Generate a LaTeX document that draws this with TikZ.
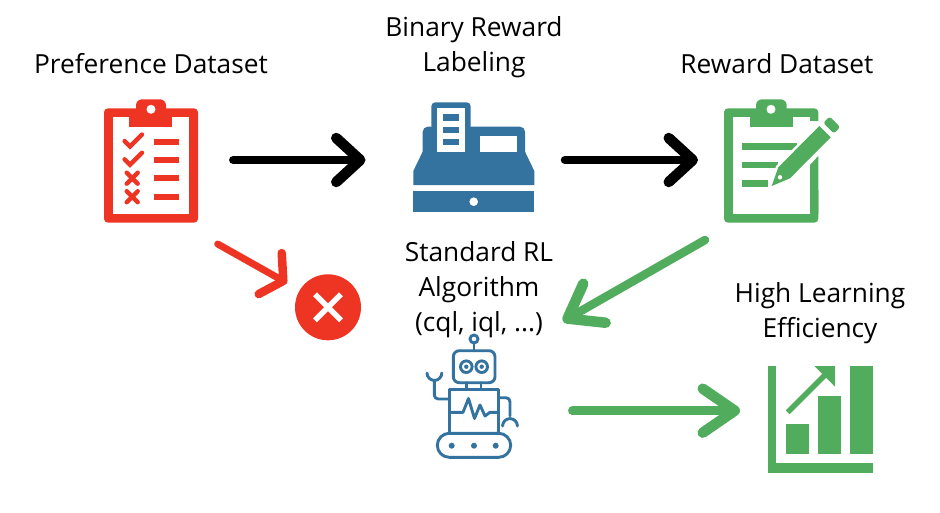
\documentclass[tikz,border=0pt]{standalone}
\usepackage{fontspec}
\setmainfont{Open Sans}
\usetikzlibrary{arrows.meta}
\definecolor{redc}{HTML}{EE3524}
\definecolor{bluec}{HTML}{34729F}
\definecolor{greenc}{HTML}{51AD5D}
\tikzset{
  lbl/.style={font=\fontsize{26.3}{35}\selectfont,align=center,text=black,inner sep=0pt},
  conn/.style={line width=8.5pt,line cap=round,line join=round},
  thin line/.style={line width=2.9pt,line cap=round,line join=round,draw=bluec},
}
\begin{document}
\begin{tikzpicture}[x=1pt,y=-1pt]
\useasboundingbox (0,0) rectangle (940,512);
\fill[white] (0,0) rectangle (940,512);
% ---------- labels
\node[lbl] (tPref) at (151,63.5) {Preference Dataset};
\node[lbl] (tBin) at (474,47) {Binary Reward\\Labeling};
\node[lbl] (tRew) at (777,63.5) {Reward Dataset};
\node[lbl] (tStd) at (479,289.5) {Standard RL\\Algorithm\\(cql, iql, ...)};
\node[lbl] (tHigh) at (820,313) {High Learning\\Efficiency};
% ---------- preference clipboard
\fill[redc,rounded corners=4pt] (104,108.3) rectangle (198,222.7);
\fill[white] (112.7,117.3) rectangle (189,214);
\fill[redc,rounded corners=6pt] (136,99.3) rectangle (166,122);
\fill[redc] (129,117.3) rectangle (172,126.7);
\fill[white] (151,109.3) circle (4.5);
\begin{scope}[line width=4.4pt,line cap=round]
  \draw[redc] (124.6,141) -- (130,146.5) -- (142,134.5);
  \draw[redc] (124.6,159.3) -- (130,164.8) -- (142,152.8);
  \draw[redc] (126.7,172.7) -- (137.7,183.7) (137.7,172.7) -- (126.7,183.7);
  \draw[redc] (126.7,191.2) -- (137.7,202.2) (137.7,191.2) -- (126.7,202.2);
\end{scope}
\fill[redc] (154,138.7) rectangle (179.3,144.7);
\fill[redc] (154,157.3) rectangle (179.3,163.3);
\fill[redc] (154,175.3) rectangle (179.3,181.3);
\fill[redc] (154,193.7) rectangle (179.3,199.7);
\coordinate (prefOut) at (233.3,160);
\coordinate (prefDown) at (217.7,244);
% ---------- cash register
\fill[bluec,rounded corners=4pt] (431.3,102.3) rectangle (470.7,130);
\fill[bluec,rounded corners=5pt] (422.7,126.7) rectangle (525,160);
\fill[bluec] (422.7,151.7) -- (525,151.7) -- (534.3,171) -- (534.3,185) -- (413.3,185) -- (413.3,171) -- cycle;
\fill[bluec] (413.3,191) rectangle (534.3,212.3);
\fill[white] (473.7,201.7) circle (4.3);
\fill[white] (437.3,108.3) rectangle (465,151.7);
\fill[bluec] (443.3,114.3) rectangle (459,120.7);
\fill[bluec] (443.3,126.7) rectangle (459,133);
\fill[bluec] (443.3,139) rectangle (459,145);
\fill[white] (480,136) rectangle (516.7,151.7);
\coordinate (regIn) at (365.5,160);
\coordinate (regOut) at (565,160);
% ---------- reward clipboard
\fill[greenc,rounded corners=4pt] (724,108.3) rectangle (818.3,222.7);
\fill[white] (732.7,117.3) rectangle (810,214);
\fill[greenc,rounded corners=6pt] (756,99.3) rectangle (786.7,122);
\fill[greenc] (750,117.3) rectangle (792.7,126.7);
\fill[white] (771,109.3) circle (4.5);
\fill[greenc] (742.3,143.3) rectangle (796.7,150);
\fill[greenc] (742.3,161.7) rectangle (778.3,168.3);
\fill[greenc] (742.3,180) rectangle (768.3,186.7);
% pencil
\filldraw[white,line width=5pt,line join=round] (778.3,167.3) -- (819.3,126) -- (830.7,137.3) -- (790,178.3) -- (771.7,186) -- cycle;
\fill[white] (810,121) rectangle (830,190);
\fill[greenc] (810,165) -- (810,214) -- (818.3,214) -- (818.3,156) -- cycle;
\fill[greenc] (778.3,167.3) -- (819.3,126) -- (830.7,137.3) -- (790,178.3) -- (771.7,186) -- cycle;
\fill[white] (780,177.3) circle (2.2);
\fill[greenc,rounded corners=2.5pt,rotate around={-45:(831.7,125)}] (824.2,120.5) rectangle (839.2,129.5);
\coordinate (rewOut) at (705,240);
\coordinate (rewIn) at (698,160);
% ---------- reject mark
\fill[redc] (328,307.3) circle (33);
\draw[white,line width=5.4pt] (315,294.3) -- (341,320.3) (341,294.3) -- (315,320.3);
\coordinate (rejIn) at (287,283);
% ---------- robot
\begin{scope}[thin line]
  \draw (474,339) circle (4);
  \draw (474,343) -- (474,350.7);
  \draw[rounded corners=6pt] (453.3,350.7) rectangle (495,382.7);
  \draw (466.3,366.7) circle (5.8) (481.7,366.7) circle (5.8);
  \draw (466.7,382.7) -- (466.7,389.3) (481,382.7) -- (481,389.3);
  \draw (449.3,389.3) rectangle (498.3,433.3);
  \draw (449.3,412.3) -- (463,412.3) -- (468.5,398.5) -- (474.5,418.5) -- (480,405) -- (485,416) -- (490,412.3) -- (498.3,412.3);
  \draw[rounded corners=12pt] (437.3,433.3) rectangle (510.7,457.3);
  \draw[rounded corners=4pt] (449.3,399) -- (434.3,399) -- (434.3,381);
  \draw (427,373) arc[start angle=180,end angle=0,radius=7.4];
  \draw[rounded corners=4pt] (498.3,397.7) -- (510,397.7) -- (510,416);
  \draw (502.6,426) arc[start angle=180,end angle=360,radius=7.4];
\end{scope}
\fill[bluec] (466.3,366.7) circle (2.2) (481.7,366.7) circle (2.2);
\fill[bluec] (451.7,445.7) circle (3) (474,445.7) circle (3) (495.7,445.7) circle (3);
\coordinate (robotIn) at (563,321.2);
\coordinate (robotOut) at (572.3,410.7);
% ---------- chart
\fill[greenc] (767.7,366) rectangle (776.3,472.7);
\fill[greenc] (767.7,463.3) rectangle (873,472.7);
\fill[greenc] (785.7,424) rectangle (808.7,454.3);
\fill[greenc] (818,396.3) rectangle (840.7,454.3);
\fill[greenc] (850,366) rectangle (873,454.3);
\draw[greenc,line width=5.5pt] (787.7,412.3) -- (825,375);
\fill[greenc] (814.3,366) -- (835,366) -- (835,386.7) -- cycle;
\coordinate (chartIn) at (740,410.7);
% ---------- connectors
\draw[conn,-{Straight Barb[round,length=24pt,width=44pt,line width=10.5pt]}] (prefOut) -- (regIn);
\draw[conn,-{Straight Barb[round,length=24pt,width=44pt,line width=10.5pt]}] (regOut) -- (rewIn);
\draw[conn,greenc,-{Straight Barb[round,length=31pt,width=45pt,line width=10.5pt]}] (rewOut) -- (robotIn);
\draw[conn,greenc,-{Straight Barb[round,length=32pt,width=44pt,line width=10.5pt]}] (robotOut) -- (chartIn);
\draw[conn,redc,line width=7pt,-{Straight Barb[round,length=15pt,width=47pt,line width=8.5pt]}] (prefDown) -- (rejIn);
\end{tikzpicture}
\end{document}
